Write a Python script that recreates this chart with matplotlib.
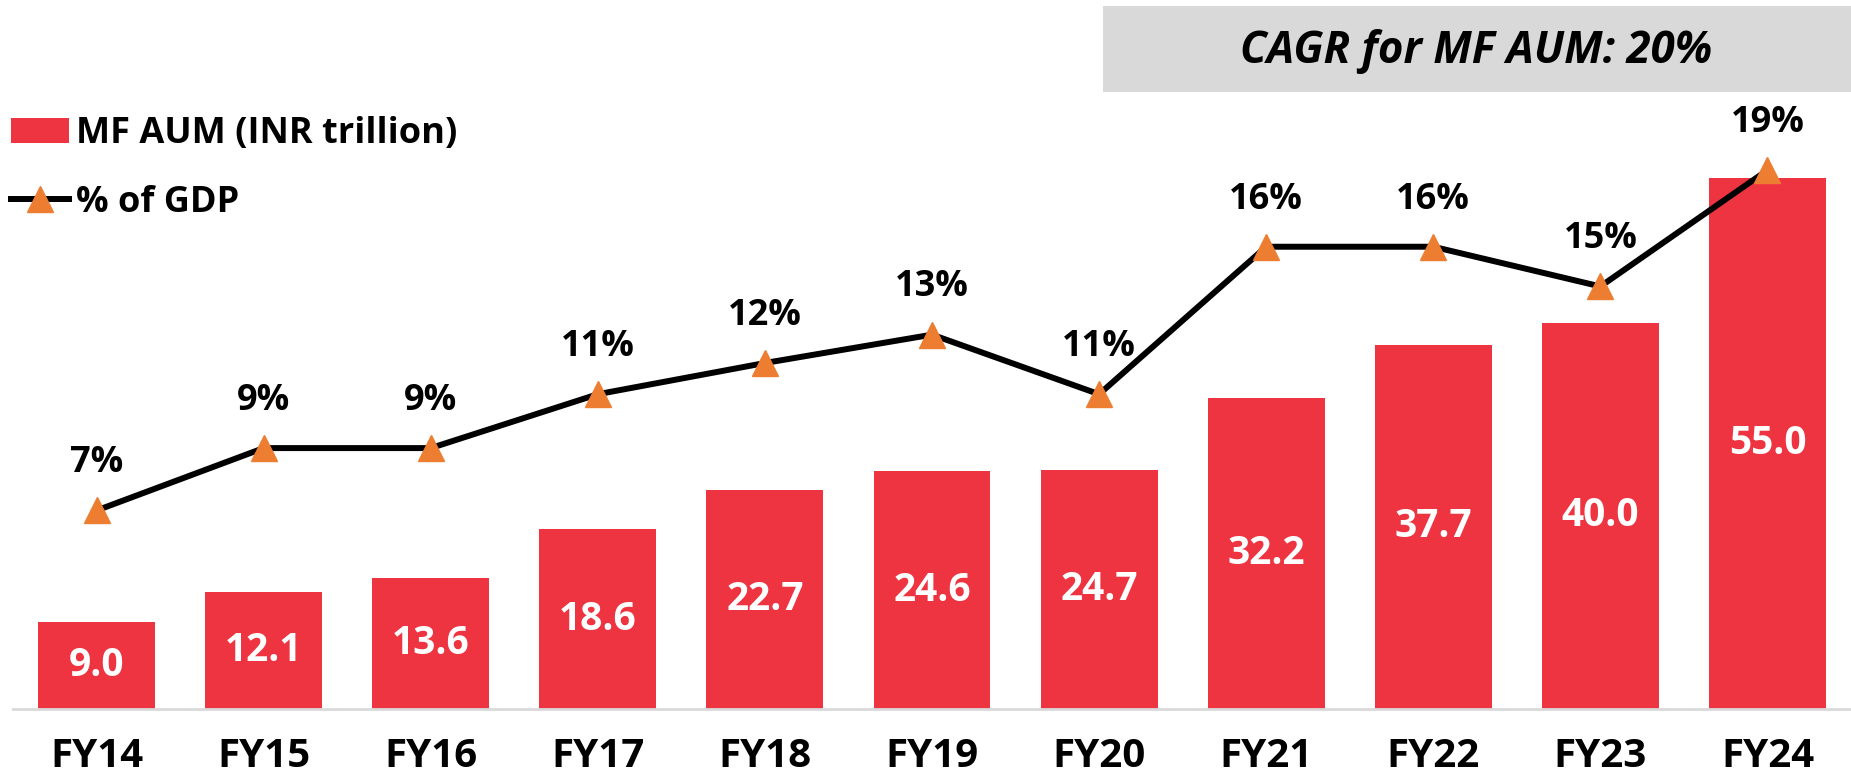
import matplotlib
matplotlib.use('Agg')
import matplotlib.pyplot as plt
from matplotlib.patches import Patch, Rectangle
from matplotlib.lines import Line2D

years = ['FY14', 'FY15', 'FY16', 'FY17', 'FY18', 'FY19', 'FY20', 'FY21', 'FY22', 'FY23', 'FY24']
aum = [9.0, 12.1, 13.6, 18.6, 22.7, 24.6, 24.7, 32.2, 37.7, 40.0, 55.0]
gdp_pct = [7.0, 9.2, 9.2, 11.1, 12.2, 13.2, 11.1, 16.3, 16.3, 14.9, 19.0]
series_names = ['MF AUM (INR trillion)', '% of GDP']
cagr_text = 'CAGR for MF AUM: 20%'

RED = '#EE3440'
ORANGE = '#ED7D31'
GRAY = '#D9D9D9'

plt.rcParams['font.family'] = ['Open Sans', 'DejaVu Sans']
W, H = 1851, 774
fig = plt.figure(figsize=(W / 100, H / 100), dpi=100)

ax = fig.add_axes([13 / W, 1 - 709 / H, 1 - 13 / W, 709 / H])
x = list(range(len(years)))
bars = ax.bar(x, aum, width=0.70, color=RED, zorder=2)
ax.set_xlim(-0.5, 10.5)
ax.set_ylim(0, 73.4)
for s in ['top', 'right', 'left']:
    ax.spines[s].set_visible(False)
ax.spines['bottom'].set_color(GRAY)
ax.spines['bottom'].set_linewidth(2)
ax.set_yticks([])
ax.set_xticks(x, years, fontsize=29, fontweight='bold')
ax.tick_params(axis='x', length=0, pad=20)
ax.bar_label(bars, labels=[f'{v:.1f}' for v in aum], label_type='center',
             color='white', fontsize=28, fontweight='bold')

ax2 = ax.twinx()
ax2.set_ylim(0, 25)
for s in ax2.spines.values():
    s.set_visible(False)
ax2.set_yticks([])
ax2.plot(x, gdp_pct, color='black', lw=4.3, marker='^', markersize=19,
         mfc=ORANGE, mec=ORANGE, zorder=3)
for i, v in zip(x, gdp_pct):
    ax2.annotate(f'{v:.0f}%', (i, v), xytext=(0, 34), textcoords='offset points',
                 ha='center', va='center', fontsize=26, fontweight='bold')

handles = [Patch(facecolor=RED, label=series_names[0]),
           Line2D([], [], color='black', lw=4.3, marker='^', markersize=19,
                  mfc=ORANGE, mec=ORANGE, label=series_names[1])]
ax2.legend(handles=handles, loc='upper left', bbox_to_anchor=(0.006, 1 - 116 / H),
           bbox_transform=fig.transFigure, frameon=False,
           prop={'size': 26, 'weight': 'bold'}, handlelength=1.6,
           handletextpad=0.2, borderaxespad=0, borderpad=0, labelspacing=0.9)

fig.patches.append(Rectangle((1103 / W, 1 - 92 / H), (W - 1103) / W, 86 / H,
                             transform=fig.transFigure, facecolor=GRAY,
                             edgecolor='none', zorder=0))
fig.text(1476 / W, 1 - 52 / H, cagr_text, ha='center', va='center',
         fontsize=31.5, fontweight='bold', fontstyle='italic')

fig.savefig('out.png', dpi=100)
